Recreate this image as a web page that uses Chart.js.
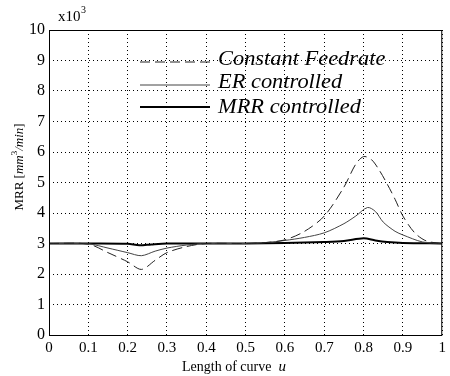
<!DOCTYPE html>
<html>
<head>
<meta charset="utf-8">
<script src="https://cdn.jsdelivr.net/npm/chart.js@4"></script>
<style>
  html, body { margin: 0; padding: 0; background: #fff; }
</style>
</head>
<body>
<canvas id="myChart" width="450" height="376"></canvas>
<script>
// length of curve u and MRR values (x10^3 mm^3/min)
const uConst = [0, 0.1, 0.15, 0.2, 0.235, 0.27, 0.3, 0.35, 0.4, 0.5, 0.55, 0.6, 0.65, 0.7, 0.75, 0.78, 0.8, 0.82, 0.84, 0.86, 0.88, 0.9, 0.93, 0.96, 1];
const constVals = [3, 2.98, 2.7, 2.4, 2.15, 2.45, 2.7, 2.9, 3, 3, 3.03, 3.12, 3.4, 3.9, 4.85, 5.6, 5.85, 5.75, 5.4, 4.95, 4.45, 3.9, 3.35, 3.08, 3];
const uER = [0, 0.1, 0.15, 0.2, 0.235, 0.27, 0.3, 0.35, 0.4, 0.5, 0.55, 0.6, 0.65, 0.7, 0.75, 0.78, 0.81, 0.83, 0.85, 0.88, 0.9, 0.95, 1];
const erVals = [3, 2.99, 2.85, 2.7, 2.6, 2.75, 2.85, 2.95, 3, 3, 3.03, 3.1, 3.2, 3.35, 3.65, 3.9, 4.18, 4.05, 3.7, 3.4, 3.28, 3.05, 3];
const uMRR = [0, 0.1, 0.2, 0.23, 0.26, 0.3, 0.4, 0.5, 0.6, 0.7, 0.75, 0.8, 0.83, 0.86, 0.9, 1];
const mrrVals = [3, 3, 2.99, 2.94, 2.97, 3, 3, 3, 3.02, 3.05, 3.08, 3.17, 3.1, 3.05, 3.02, 3];
const xTicks = [0, 0.1, 0.2, 0.3, 0.4, 0.5, 0.6, 0.7, 0.8, 0.9, 1];
const yTicks = [0, 1, 2, 3, 4, 5, 6, 7, 8, 9, 10];
const seriesNames = ["Constant Feedrate", "ER controlled", "MRR controlled"];

const pts = (xs, ys) => xs.map((x, i) => ({ x: x, y: ys[i] }));
const serif = "'Liberation Serif', 'DejaVu Serif', serif";

// frame, x10^3 label, legend and axis titles
const extras = {
  id: "extras",
  afterDraw(chart) {
    const { ctx, chartArea: a } = chart;
    ctx.save();
    ctx.strokeStyle = "#000";
    ctx.lineWidth = 1;
    ctx.strokeRect(a.left + 0.5, a.top + 0.5, a.right - a.left - 1, a.bottom - a.top);
    ctx.fillStyle = "#000";
    ctx.font = "15px " + serif;
    ctx.textBaseline = "alphabetic";
    ctx.fillText("x10", a.left + 9, a.top - 9);
    ctx.font = "10px " + serif;
    ctx.fillText("3", a.left + 32, a.top - 17);

    // legend
    const ds = chart.data.datasets;
    const lx0 = 140, lx1 = 210, tx = 218;
    const lineY = [62, 85, 107];
    const textY = [60, 83, 108];
    ds.forEach((d, i) => {
      ctx.beginPath();
      ctx.setLineDash(d.borderDash || []);
      ctx.lineWidth = d.borderWidth;
      ctx.strokeStyle = d.borderColor;
      ctx.moveTo(lx0, lineY[i]);
      ctx.lineTo(lx1, lineY[i]);
      ctx.stroke();
      ctx.setLineDash([]);
      ctx.fillStyle = "#000";
      ctx.font = "italic 20px " + serif;
      ctx.textBaseline = "middle";
      ctx.save();
      ctx.translate(tx, textY[i]);
      ctx.scale(1.12, 1);
      ctx.fillText(seriesNames[i], 0, 0);
      ctx.restore();
    });

    // x title
    ctx.textBaseline = "alphabetic";
    ctx.font = "14px " + serif;
    const t1 = "Length of curve  ";
    const w1 = ctx.measureText(t1).width;
    ctx.font = "italic 15px " + serif;
    const w2 = ctx.measureText("u").width;
    let x = 234 - (w1 + w2) / 2;
    ctx.font = "14px " + serif;
    ctx.fillText(t1, x, 371);
    ctx.font = "italic 15px " + serif;
    ctx.fillText("u", x + w1, 371);

    // y title
    ctx.translate(23, 167);
    ctx.rotate(-Math.PI / 2);
    const p1 = "MRR [", p2 = "mm", p3 = "3", p4 = "/min", p5 = "]";
    ctx.font = "13px " + serif;
    const wa = ctx.measureText(p1).width, we = ctx.measureText(p5).width;
    ctx.font = "italic 13px " + serif;
    const wb = ctx.measureText(p2).width, wd = ctx.measureText(p4).width;
    ctx.font = "9px " + serif;
    const wc = ctx.measureText(p3).width;
    x = -(wa + wb + wc + wd + we) / 2;
    ctx.font = "13px " + serif;
    ctx.fillText(p1, x, 0); x += wa;
    ctx.font = "italic 13px " + serif;
    ctx.fillText(p2, x, 0); x += wb;
    ctx.font = "9px " + serif;
    ctx.fillText(p3, x, -6); x += wc;
    ctx.font = "italic 13px " + serif;
    ctx.fillText(p4, x, 0); x += wd;
    ctx.font = "13px " + serif;
    ctx.fillText(p5, x, 0);
    ctx.restore();
  }
};

const ctx = document.getElementById("myChart").getContext("2d");
const myChart = new Chart(ctx, {
  type: "line",
  data: {
    datasets: [
      {
        label: seriesNames[0],
        data: pts(uConst, constVals),
        borderColor: "#222",
        borderWidth: 1,
        borderDash: [10, 5],
        fill: false,
        tension: 0.3,
        pointRadius: 0,
      },
      {
        label: seriesNames[1],
        data: pts(uER, erVals),
        borderColor: "#444",
        borderWidth: 1,
        fill: false,
        tension: 0.3,
        pointRadius: 0,
      },
      {
        label: seriesNames[2],
        data: pts(uMRR, mrrVals),
        borderColor: "#000",
        borderWidth: 2,
        fill: false,
        tension: 0.3,
        pointRadius: 0,
      },
    ],
  },
  options: {
    responsive: false,
    animation: false,
    layout: { padding: { top: 30, right: 3, left: 0, bottom: 0 } },
    plugins: { legend: { display: false }, tooltip: { enabled: false } },
    scales: {
      x: {
        type: "linear",
        min: 0,
        max: 1,
        afterBuildTicks: (s) => { s.ticks = xTicks.map((v) => ({ value: v })); },
        afterFit: (s) => { s.height = 41; },
        grid: { color: "#000", lineWidth: 1, tickLength: 0, drawTicks: false },
        border: { display: false, dash: [1, 3] },
        ticks: { color: "#000", padding: 4, maxRotation: 0, font: { family: serif, size: 15 }, callback: (v) => String(v) },
      },
      y: {
        min: 0,
        max: 10,
        afterBuildTicks: (s) => { s.ticks = yTicks.map((v) => ({ value: v })); },
        afterFit: (s) => { s.width = 49; },
        grid: { color: "#000", lineWidth: 1, drawTicks: false },
        border: { display: false, dash: [1, 3] },
        ticks: { color: "#000", padding: 4, font: { family: serif, size: 16 } },
      },
    },
  },
  plugins: [extras],
});
</script>
</body>
</html>
